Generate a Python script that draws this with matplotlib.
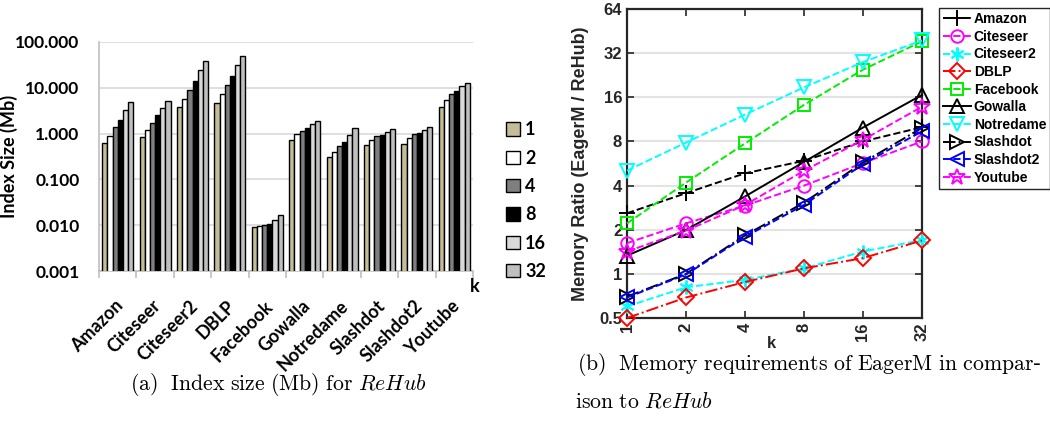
import matplotlib
matplotlib.use('Agg')
import numpy as np
import matplotlib.pyplot as plt
from matplotlib.ticker import FixedLocator, FixedFormatter, NullLocator

plt.rcParams['mathtext.fontset'] = 'cm'

# ---------------- data ----------------
datasets = ['Amazon', 'Citeseer', 'Citeseer2', 'DBLP', 'Facebook',
            'Gowalla', 'Notredame', 'Slashdot', 'Slashdot2', 'Youtube']
k_values = [1, 2, 4, 8, 16, 32]
k_labels = ['1', '2', '4', '8', '16', '32']

# ReHub index size (Mb) per dataset, one list per k
size_k1 = [0.63, 0.83, 3.75, 4.75, 0.0090, 0.74, 0.31, 0.56, 0.60, 3.9]
size_k2 = [0.90, 1.18, 5.7, 7.4, 0.0095, 0.99, 0.40, 0.73, 0.80, 5.4]
size_k4 = [1.37, 1.74, 9.0, 11.6, 0.0100, 1.16, 0.53, 0.87, 0.97, 7.2]
size_k8 = [2.0, 2.5, 14.4, 18.5, 0.0105, 1.32, 0.65, 0.95, 1.05, 8.6]
size_k16 = [3.3, 3.7, 24.0, 31.6, 0.0131, 1.60, 0.92, 1.07, 1.20, 10.7]
size_k32 = [5.0, 5.1, 39.0, 50.0, 0.0163, 1.88, 1.30, 1.26, 1.39, 12.5]

size_ticks = [0.001, 0.01, 0.1, 1, 10, 100]
size_tick_labels = ['0.001', '0.010', '0.100', '1.000', '10.000', '100.000']

# memory ratio EagerM / ReHub, one list per dataset over k
ratio_amazon = [2.59, 3.55, 4.85, 5.9, 8.0, 10.0]
ratio_citeseer = [1.62, 2.21, 2.92, 4.0, 5.7, 8.0]
ratio_citeseer2 = [0.60, 0.81, 0.91, 1.09, 1.42, 1.70]
ratio_dblp = [0.50, 0.69, 0.88, 1.09, 1.28, 1.69]
ratio_facebook = [2.21, 4.19, 7.75, 14.2, 24.7, 38.5]
ratio_gowalla = [1.33, 1.99, 3.37, 5.8, 9.95, 16.6]
ratio_notredame = [5.06, 7.86, 12.2, 18.7, 27.8, 39.1]
ratio_slashdot = [0.70, 1.00, 1.83, 3.06, 5.75, 9.9]
ratio_slashdot2 = [0.69, 0.99, 1.79, 2.95, 5.6, 9.4]
ratio_youtube = [1.42, 1.97, 2.95, 5.05, 8.2, 13.8]

ratio_ticks = [0.5, 1, 2, 4, 8, 16, 32, 64]
ratio_tick_labels = ['0.5', '1', '2', '4', '8', '16', '32', '64']

# ---------------- figure ----------------
W, H = 1050, 421
fig = plt.figure(figsize=(W / 100, H / 100), dpi=100)


def fx(px):
    return px / W


def fy(py):
    return 1 - py / H


# ---------------- (a) grouped bars ----------------
LFONT = 'Lato'
ax1 = fig.add_axes([fx(99), fy(271), fx(473) - fx(99), fy(42) - fy(271)])
sizes = [size_k1, size_k2, size_k4, size_k8, size_k16, size_k32]
bar_colors = ['#c4bd97', '#ffffff', '#7f7f7f', '#000000', '#d9d9d9', '#bfbfbf']
n = len(k_values)
bw = 0.138
x = np.arange(len(datasets))
handles = []
for j, (vals, col) in enumerate(zip(sizes, bar_colors)):
    b = ax1.bar(x + (j - (n - 1) / 2) * bw, vals, width=bw, color=col,
                edgecolor='black', linewidth=1.0, zorder=3)
    handles.append(b)

ax1.set_yscale('log')
ax1.set_ylim(size_ticks[0], size_ticks[-1])
ax1.set_xlim(-0.5, len(datasets) - 0.5)
ax1.yaxis.set_major_locator(FixedLocator(size_ticks))
ax1.yaxis.set_major_formatter(FixedFormatter(size_tick_labels))
ax1.yaxis.set_minor_locator(NullLocator())
ax1.grid(axis='y', color='#d9d9d9', linewidth=1.2, zorder=0)
ax1.set_axisbelow(True)
for s in ['top', 'right']:
    ax1.spines[s].set_visible(False)
for s in ['left', 'bottom']:
    ax1.spines[s].set_color('#bfbfbf')
    ax1.spines[s].set_linewidth(1.2)
ax1.tick_params(axis='y', length=0, pad=14)
# category ticks sit between the groups
ax1.xaxis.set_major_locator(FixedLocator(np.arange(-0.5, len(datasets), 1.0)))
ax1.xaxis.set_major_formatter(FixedFormatter([''] * (len(datasets) + 1)))
ax1.tick_params(axis='x', length=5, color='#bfbfbf', width=1.2)
for lab in ax1.get_yticklabels():
    lab.set_fontfamily(LFONT)
    lab.set_fontweight('bold')
    lab.set_fontsize(12.5)
for i, name in enumerate(datasets):
    ax1.annotate(name, xy=(i, 0), xycoords=('data', 'axes fraction'),
                 xytext=(-2.3, -18.8), textcoords='offset points',
                 rotation=45, ha='right', va='top', rotation_mode='anchor',
                 fontfamily=LFONT, fontweight='bold', fontsize=13)
ax1.set_ylabel('Index Size (Mb)', fontfamily=LFONT, fontweight='bold',
               fontsize=13)
ax1.yaxis.set_label_coords((18 - 99) / 374, 0.5)
fig.text(fx(475), fy(287), 'k', fontfamily=LFONT, fontweight='bold',
         fontsize=13, ha='center', va='center')

leg1 = fig.legend(handles, k_labels, loc='upper left',
                  bbox_to_anchor=(fx(490), fy(105)), frameon=False,
                  handlelength=0.75, handleheight=0.75, handletextpad=0.3,
                  labelspacing=0.63,
                  prop={'family': LFONT, 'weight': 'bold', 'size': 13})

fig.text(fx(278), fy(384),
         r'$\mathrm{(a)\ \ Index\ size\ (Mb)\ for\ }ReHub$',
         fontsize=15.7, ha='center', va='center')

# ---------------- (b) ratio lines ----------------
RFONT = 'Liberation Sans'
ax2 = fig.add_axes([fx(627), fy(318), fx(922) - fx(627), fy(9) - fy(318)])
series = [
    ('Amazon', ratio_amazon, 'black', '--', '+'),
    ('Citeseer', ratio_citeseer, 'magenta', '--', 'o'),
    ('Citeseer2', ratio_citeseer2, 'cyan', '--', (6, 2, 0)),
    ('DBLP', ratio_dblp, 'red', '-.', 'D'),
    ('Facebook', ratio_facebook, '#00ee00', '--', 's'),
    ('Gowalla', ratio_gowalla, 'black', '-', '^'),
    ('Notredame', ratio_notredame, 'cyan', '--', 'v'),
    ('Slashdot', ratio_slashdot, 'black', '-.', '>'),
    ('Slashdot2', ratio_slashdot2, 'blue', '--', '<'),
    ('Youtube', ratio_youtube, 'magenta', '--', '*'),
]
msize = {'D': 8, 's': 8, 'o': 9, '*': 12, '+': 11, (6, 2, 0): 10}
for name, vals, col, ls, mk in series:
    ax2.plot(k_values, vals, color=col, linestyle=ls, linewidth=1.4,
             marker=mk, markersize=msize.get(mk, 10), markerfacecolor='none',
             markeredgecolor=col, markeredgewidth=1.4, label=name,
             clip_on=False, zorder=3)

ax2.set_xscale('log', base=2)
ax2.set_yscale('log', base=2)
ax2.set_xlim(k_values[0], k_values[-1])
ax2.set_ylim(ratio_ticks[0], ratio_ticks[-1])
ax2.xaxis.set_major_locator(FixedLocator(k_values))
ax2.xaxis.set_major_formatter(FixedFormatter(k_labels))
ax2.xaxis.set_minor_locator(NullLocator())
ax2.yaxis.set_major_locator(FixedLocator(ratio_ticks))
ax2.yaxis.set_major_formatter(FixedFormatter(ratio_tick_labels))
ax2.yaxis.set_minor_locator(NullLocator())
ax2.grid(axis='y', color='#e3e3e3', linewidth=1.5, zorder=0)
ax2.set_axisbelow(True)
for s in ax2.spines.values():
    s.set_color('#262626')
    s.set_linewidth(1.6)
ax2.tick_params(direction='in', top=True, right=True, length=5, width=1.2,
                color='#262626', labelsize=12)
for lab in ax2.get_xticklabels():
    lab.set_rotation(90)
for lab in ax2.get_xticklabels() + ax2.get_yticklabels():
    lab.set_fontfamily(RFONT)
    lab.set_fontweight('bold')
    lab.set_color('#262626')
ax2.set_ylabel('Memory Ratio (EagerM / ReHub)', fontfamily=RFONT,
               fontweight='bold', fontsize=13, color='#262626')
ax2.yaxis.set_label_coords((589 - 627) / 295, 0.5)
fig.text(fx(771), fy(344), 'k', fontfamily=RFONT, fontweight='bold',
         fontsize=12, color='#262626', ha='center', va='center')

leg2 = fig.legend(*ax2.get_legend_handles_labels(), loc='upper left',
                  bbox_to_anchor=(fx(939), fy(8)), frameon=True,
                  fancybox=False, edgecolor='#262626', framealpha=1,
                  handlelength=2.0, handletextpad=0.2, labelspacing=0.26,
                  borderpad=0.3, borderaxespad=0,
                  prop={'family': RFONT, 'weight': 'bold', 'size': 10})
leg2.get_frame().set_linewidth(1.0)

fig.text(fx(577), fy(365),
         r'$\mathrm{(b)\ \ Memory\ requirements\ of\ EagerM\ in\ compar}$-',
         fontsize=15.7, ha='left', va='center')
fig.text(fx(575), fy(402), r'$\mathrm{ison\ to\ }ReHub$',
         fontsize=15.7, ha='left', va='center')

fig.savefig('out.png', dpi=100)
